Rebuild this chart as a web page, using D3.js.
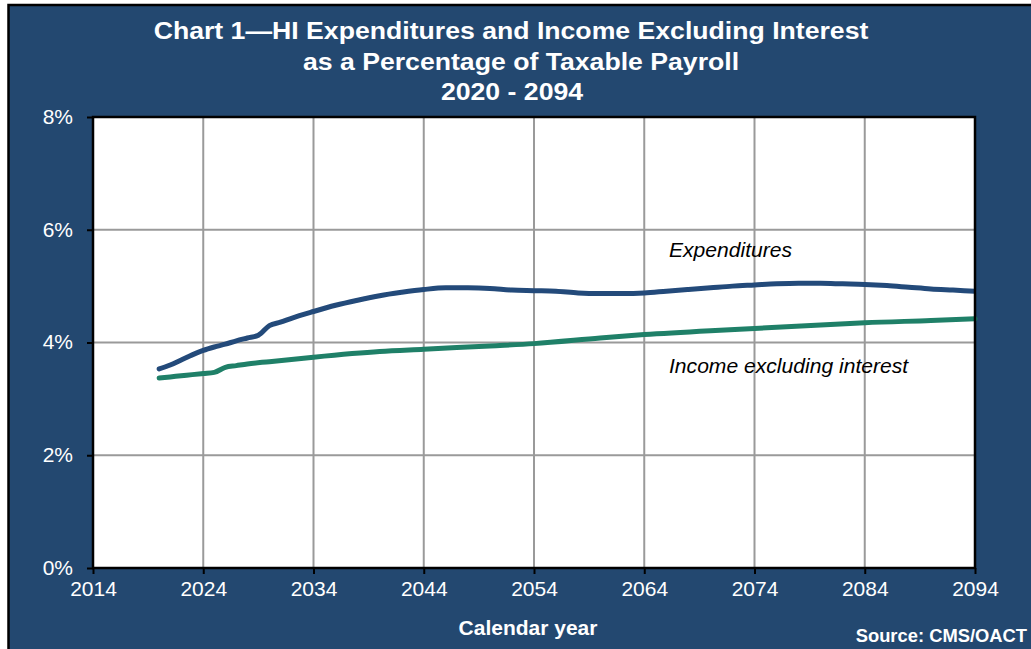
<!DOCTYPE html>
<html>
<head>
<meta charset="utf-8">
<script src="https://cdn.jsdelivr.net/npm/d3@7"></script>
<style>
  html, body { margin: 0; padding: 0; background: #ffffff; }
  svg { display: block; }
  text { font-family: "Liberation Sans", Arial, sans-serif; }
</style>
</head>
<body>
<svg id="chart" width="1031" height="649"></svg>
<script>
// HI expenditures and income excluding interest, % of taxable payroll
const expYears = [2020, 2021, 2022, 2023, 2024, 2025, 2026, 2027, 2028, 2029, 2030, 2031, 2032, 2034, 2036, 2038, 2040, 2042, 2044, 2046, 2048, 2050, 2052, 2054, 2056, 2058, 2060, 2062, 2064, 2066, 2068, 2070, 2072, 2074, 2076, 2078, 2080, 2082, 2084, 2086, 2088, 2090, 2092, 2094];
const expValues = [3.53, 3.60, 3.69, 3.78, 3.86, 3.92, 3.97, 4.03, 4.08, 4.13, 4.30, 4.36, 4.43, 4.55, 4.66, 4.75, 4.83, 4.89, 4.94, 4.97, 4.97, 4.96, 4.93, 4.92, 4.91, 4.88, 4.87, 4.87, 4.88, 4.91, 4.94, 4.97, 5.00, 5.02, 5.04, 5.05, 5.05, 5.04, 5.03, 5.01, 4.98, 4.95, 4.93, 4.91];

const incYears = [2020, 2021, 2022, 2023, 2024, 2025, 2026, 2027, 2028, 2030, 2034, 2040, 2044, 2050, 2054, 2060, 2064, 2070, 2074, 2080, 2084, 2090, 2094];
const incValues = [3.37, 3.39, 3.41, 3.43, 3.45, 3.47, 3.56, 3.59, 3.62, 3.66, 3.74, 3.84, 3.88, 3.94, 3.98, 4.08, 4.14, 4.21, 4.25, 4.31, 4.35, 4.39, 4.42];

const xTicks = [2014, 2024, 2034, 2044, 2054, 2064, 2074, 2084, 2094];
const yTicks = [0, 2, 4, 6, 8];

const titleLines = [
  "Chart 1\u2014HI Expenditures and Income Excluding Interest",
  "as a Percentage of Taxable Payroll",
  "2020 - 2094"
];
const titleCenters = [511, 521, 512];
const seriesLabels = ["Expenditures", "Income excluding interest"];
const xAxisTitle = "Calendar year";
const sourceNote = "Source: CMS/OACT";

const svg = d3.select("#chart");
const W = 1031, H = 649;
const bg = "#234870";
const margin = { left: 93, top: 117, right: W - 975, bottom: H - 568 };

// Places a text at (px, py), widened horizontally by sx
function placed(sel, px, py, sx) {
  return sel.attr("transform", `translate(${px},${py}) scale(${sx},1)`);
}

// Dark panel with a black edge
svg.append("rect")
  .attr("x", 8.5).attr("y", 5)
  .attr("width", 1100).attr("height", 700)
  .attr("fill", bg)
  .attr("stroke", "#000").attr("stroke-width", 2.5);

const x = d3.scaleLinear().domain([2014, 2094]).range([margin.left, W - margin.right]);
const y = d3.scaleLinear().domain([0, 8]).range([H - margin.bottom, margin.top]);

// Plot area
svg.append("rect")
  .attr("x", x(2014)).attr("y", y(8))
  .attr("width", x(2094) - x(2014)).attr("height", y(0) - y(8))
  .attr("fill", "#fff");

// Grid lines
const grid = svg.append("g");
grid.selectAll("line.v").data(xTicks.slice(1, -1)).join("line")
  .attr("x1", d => x(d)).attr("x2", d => x(d))
  .attr("y1", y(8)).attr("y2", y(0))
  .attr("stroke", "#9a9a9a").attr("stroke-width", 2);
grid.selectAll("line.h").data(yTicks.slice(1, -1)).join("line")
  .attr("x1", x(2014)).attr("x2", x(2094))
  .attr("y1", d => y(d)).attr("y2", d => y(d))
  .attr("stroke", "#9a9a9a").attr("stroke-width", 2);

// Series lines
const line = d3.line().x(d => x(d[0])).y(d => y(d[1])).curve(d3.curveMonotoneX);
const expData = expYears.map((yr, i) => [yr, expValues[i]]);
const incData = incYears.map((yr, i) => [yr, incValues[i]]);

svg.append("path").datum(incData)
  .attr("d", line)
  .attr("fill", "none").attr("stroke", "#1f8068").attr("stroke-width", 5)
  .attr("stroke-linecap", "round").attr("stroke-linejoin", "round");
svg.append("path").datum(expData)
  .attr("d", line)
  .attr("fill", "none").attr("stroke", "#234a7a").attr("stroke-width", 5)
  .attr("stroke-linecap", "round").attr("stroke-linejoin", "round");

// Frame
svg.append("rect")
  .attr("x", x(2014)).attr("y", y(8))
  .attr("width", x(2094) - x(2014)).attr("height", y(0) - y(8))
  .attr("fill", "none").attr("stroke", "#000").attr("stroke-width", 2.5);

// Axes
const xAxis = svg.append("g")
  .attr("transform", `translate(0,${y(0)})`)
  .call(d3.axisBottom(x).tickValues(xTicks).tickFormat(d3.format("d")).tickSize(6).tickPadding(8));
const yAxis = svg.append("g")
  .attr("transform", `translate(${x(2014)},0)`)
  .call(d3.axisLeft(y).tickValues(yTicks).tickFormat(d => d + "%").tickSize(6).tickPadding(14));

[xAxis, yAxis].forEach(g => {
  g.select(".domain").remove();
  g.selectAll(".tick line").attr("stroke", "#000").attr("stroke-width", 2);
  g.selectAll(".tick text")
    .attr("fill", "#fff")
    .style("font-size", "20px")
    .style("font-family", "'Liberation Sans', Arial, sans-serif");
});
// widen tick labels slightly around their anchor
xAxis.selectAll(".tick text").attr("transform", "scale(1.05,1)");
yAxis.selectAll(".tick text").each(function () {
  const t = d3.select(this);
  const tx = +t.attr("x");
  t.attr("x", tx / 1.05).attr("transform", "scale(1.05,1)");
});

// Title
svg.append("g").selectAll("text").data(titleLines).join("text")
  .each(function (d, i) { placed(d3.select(this), titleCenters[i], 39 + i * 30.5, 1.11); })
  .attr("text-anchor", "middle")
  .attr("fill", "#fff")
  .style("font-size", "24px").style("font-weight", "bold")
  .text(d => d);

// Series labels
placed(svg.append("text"), 669, 257, 1.055)
  .attr("fill", "#000").style("font-size", "20px").style("font-style", "italic")
  .text(seriesLabels[0]);
placed(svg.append("text"), 669, 373, 1.055)
  .attr("fill", "#000").style("font-size", "20px").style("font-style", "italic")
  .text(seriesLabels[1]);

// Axis title and source
placed(svg.append("text"), 528, 635, 1.05)
  .attr("text-anchor", "middle")
  .attr("fill", "#fff").style("font-size", "20px").style("font-weight", "bold")
  .text(xAxisTitle);
placed(svg.append("text"), 1027, 642, 1.02)
  .attr("text-anchor", "end")
  .attr("fill", "#fff").style("font-size", "18px").style("font-weight", "bold")
  .text(sourceNote);
</script>
</body>
</html>
